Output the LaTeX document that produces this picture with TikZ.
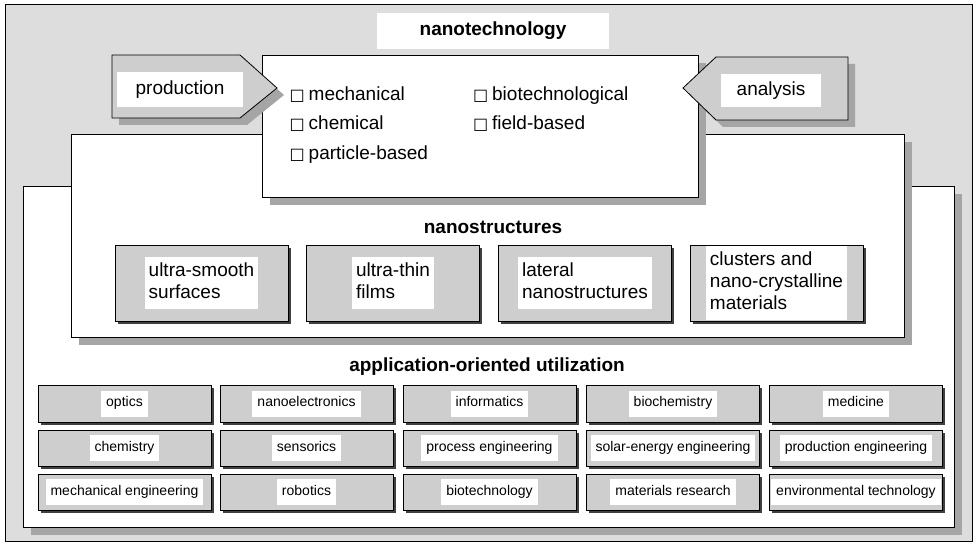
\documentclass[tikz,border=0pt]{standalone}
\usepackage{fontspec}
\setmainfont{Liberation Sans}
\newfontfamily\symfont{DejaVu Sans}
\usetikzlibrary{shadows}
\definecolor{paper}{RGB}{221,221,221}
\definecolor{tilegray}{RGB}{206,206,206}
\definecolor{shade}{RGB}{165,165,165}
\newcommand{\hl}[2][5pt]{{\fboxsep=#1\colorbox{white}{#2}}}
\newcommand{\chk}{{\symfont\fontsize{16}{16}\selectfont\char"25A1}\hspace{4pt}}
\tikzset{
  panel/.style={draw, fill=white, line width=0.8pt,
    drop shadow={shadow xshift=8pt, shadow yshift=-8pt, fill=shade, opacity=1}},
  field/.style={draw, fill=tilegray, line width=0.8pt, inner sep=1pt,
    drop shadow={shadow xshift=2.5pt, shadow yshift=-2.5pt, fill=black!75, opacity=1}},
  pointer/.style={draw, fill=tilegray, line width=0.8pt,
    drop shadow={shadow xshift=7pt, shadow yshift=-7pt, fill=shade, opacity=1}},
  tag/.style={fill=white, inner sep=0pt},
  head/.style={font=\fontsize{19}{22}\selectfont\bfseries},
  small/.style={font=\fontsize{14}{16}\selectfont},
}

\begin{document}
\begin{tikzpicture}[x=1pt, y=-1pt, font=\fontsize{19}{22}\selectfont]
  \useasboundingbox (0,0) rectangle (976,545);
  % frame
  \draw[fill=paper, line width=0.8pt] (5,4) rectangle (972,541);
  % panels, back to front
  \node[panel, minimum width=931pt, minimum height=341pt] (usage) at (488.5,356.5) {};
  \node[panel, minimum width=833pt, minimum height=203pt] (struct) at (487.5,235.5) {};
  \node[panel, minimum width=436pt, minimum height=142pt] (tech) at (480,126) {};
  \node[head, tag, minimum width=232pt, minimum height=36pt] (title) at (493,31) {nanotechnology};
  % production and analysis
  \draw[pointer] (112,55) -- (240,55) -- (277,88) -- (240,118) -- (112,118) -- cycle;
  \node[tag, minimum width=126pt, minimum height=35pt] (prod) at (180,89.5) {production};
  \draw[pointer] (848,57) -- (716,57) -- (683,88) -- (716,120) -- (848,120) -- cycle;
  \node[tag, minimum width=100pt, minimum height=33pt] (anal) at (771,91) {analysis};
  % methods
  \node (methods) at (459,124) {\renewcommand{\arraystretch}{1.36}%
    \begin{tabular}{@{}l@{\hspace{45pt}}l@{}}
      \chk mechanical & \chk biotechnological\\
      \chk chemical & \chk field-based\\
      \chk particle-based &
    \end{tabular}};
  % nanostructures
  \node[head] (structhead) at (493,227) {nanostructures};
  \foreach \x/\t [count=\i] in {201.5/{ultra-smooth\\surfaces}, 393/{ultra-thin\\films},
      585/{lateral\\nanostructures}, 776.5/{clusters and\\nano-crystalline\\materials}}
    \node[field, minimum width=173pt, minimum height=76pt] (ns\i) at (\x,283)
      {\hl[4pt]{\begin{tabular}{@{}l@{}}\t\end{tabular}}};
  % applications
  \node[head] (usagehead) at (487,367) {application-oriented utilization};
  \foreach \x/\t [count=\c] in {124.5/optics, 306.5/nanoelectronics, 489.5/informatics,
      673/biochemistry, 856/medicine}
    \node[field, small, minimum width=173pt, minimum height=37pt] (use1-\c) at (\x,403.5) {\hl{\strut\t}};
  \foreach \x/\t [count=\c] in {124.5/chemistry, 306.5/sensorics, 489.5/process engineering,
      673/solar-energy engineering, 856/production engineering}
    \node[field, small, minimum width=173pt, minimum height=36pt] (use2-\c) at (\x,448) {\hl{\strut\t}};
  \foreach \x/\t [count=\c] in {124.5/mechanical engineering, 306.5/robotics, 489.5/biotechnology,
      673/materials research, 856/environmental technology}
    \node[field, small, minimum width=173pt, minimum height=36pt] (use3-\c) at (\x,492) {\hl{\strut\t}};
\end{tikzpicture}
\end{document}
